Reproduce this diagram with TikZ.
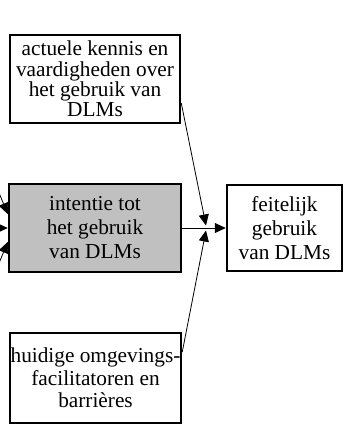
\documentclass[tikz,border=0pt]{standalone}
\usepackage{fontspec}
\setmainfont{Liberation Serif}
\usetikzlibrary{arrows.meta}
\begin{document}
\begin{tikzpicture}[x=1pt,y=-1pt,
  box/.style={draw=black,line width=2.5pt,inner sep=0pt,align=center},
  arr/.style={draw=black,line width=0.8pt,-{Triangle[length=11pt,width=10pt]}}]
\useasboundingbox (0,0) rectangle (344,437);
\clip (0,0) rectangle (344,437);
\node[box,minimum width=170pt,minimum height=88pt,font=\fontsize{21.3}{20.3}\selectfont] (top) at (95,79)
  {actuele kennis en\\vaardigheden over\\het gebruik van\\DLMs};
\node[box,fill={rgb,255:red,192;green,192;blue,192},minimum width=172pt,minimum height=88pt,font=\fontsize{21.3}{24}\selectfont] (mid) at (95,228)
  {intentie tot\\het gebruik\\van DLMs};
\node[box,minimum width=115pt,minimum height=86pt,font=\fontsize{21.3}{24}\selectfont] (right) at (284.5,228)
  {feitelijk\\gebruik\\van DLMs};
\node[box,minimum width=171pt,minimum height=90pt,font=\fontsize{21.3}{22.5}\selectfont] (bot) at (95.5,378)
  {huidige omgevings-\\facilitatoren en\\barrières};
\coordinate (j1) at (206,225.5);
\coordinate (j2) at (206,230.5);
\coordinate (l1) at (-3,188);
\coordinate (l2) at (-3,228);
\coordinate (l3) at (-3,268);
\draw[arr] ([yshift=-24pt]top.east) -- (j1);
\draw[arr] ([yshift=26pt]bot.east) -- (j2);
\draw[arr] (mid.east) -- (right.west);
\draw[arr] (l1) -- ([yshift=14pt]mid.west);
\draw[arr] (l2) -- (mid.west);
\draw[arr] (l3) -- ([yshift=-14pt]mid.west);
\end{tikzpicture}
\end{document}
